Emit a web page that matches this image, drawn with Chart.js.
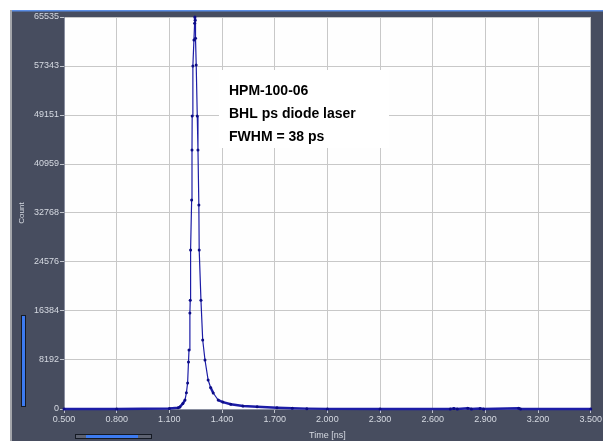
<!DOCTYPE html>
<html>
<head>
<meta charset="utf-8">
<title>HPM-100-06 pulse response</title>
<script src="https://cdn.jsdelivr.net/npm/chart.js@4/dist/chart.umd.min.js"></script>
<style>
  html, body { margin: 0; padding: 0; background: #ffffff; }
  #wrap { width: 603px; height: 441px; }
</style>
</head>
<body>
<div id="wrap"><canvas id="pulse" width="603" height="441"></canvas></div>
<script>
/* ---------- data ---------- */
const timeNs = [
  0.500, 0.800, 1.100, 1.150, 1.160, 1.177, 1.189, 1.197, 1.204, 1.209,
  1.212, 1.217, 1.219, 1.221, 1.227, 1.229, 1.230, 1.234, 1.240, 1.244,
  1.2455, 1.247, 1.249, 1.253, 1.259, 1.263, 1.268, 1.270, 1.280, 1.290,
  1.303, 1.321, 1.335, 1.350, 1.378, 1.405, 1.450, 1.519, 1.600, 1.713,
  1.800, 1.883, 2.000, 2.300, 2.700, 2.720, 2.740, 2.800, 2.820, 2.870,
  2.890, 3.090, 3.100, 3.500
];
const counts = [
  0, 0, 80, 200, 350, 900, 1500, 2700, 4350, 7860,
  9860, 16050, 18200, 26600, 34950, 43300, 49000, 57350, 61700, 64500,
  65535, 65000, 62000, 57500, 49000, 43300, 34100, 26600, 18200, 11540,
  8190, 4850, 3600, 2680, 1500, 1150, 800, 500, 380, 220,
  130, 60, 20, 0, 0, 90, 0, 120, 0, 90,
  0, 130, 0, 0
];

const xTicks = [0.5, 0.8, 1.1, 1.4, 1.7, 2.0, 2.3, 2.6, 2.9, 3.2, 3.5];
const xTickLabels = ['0.500', '0.800', '1.100', '1.400', '1.700', '2.000',
                     '2.300', '2.600', '2.900', '3.200', '3.500'];
const yTicks = [0, 8192, 16384, 24576, 32768, 40959, 49151, 57343, 65535];
const yTickLabels = ['0', '8192', '16384', '24576', '32768', '40959',
                     '49151', '57343', '65535'];
const infoLines = ['HPM-100-06', 'BHL ps diode laser', 'FWHM = 38 ps'];

/* ---------- look ---------- */
const PANEL = '#474d5f';
const LABEL = '#d6dae2';
const GRID = '#c8c8c8';
const TRACE = '#1c1ca6';

// window chrome: dark panel, top accent, left rule, the two scroll widgets
const panelPlugin = {
  id: 'panel',
  beforeDraw(chart) {
    const { ctx, chartArea: a } = chart;
    ctx.save();
    ctx.fillStyle = '#ffffff';
    ctx.fillRect(0, 0, chart.width, chart.height);
    ctx.fillStyle = PANEL;
    ctx.fillRect(12, 10, chart.width - 12, chart.height - 10);
    ctx.fillStyle = '#5b8ee6';
    ctx.fillRect(12, 10, chart.width - 12, 1.5);
    ctx.fillStyle = '#a4a6ab';
    ctx.fillRect(10, 10, 2, chart.height - 10);
    ctx.fillStyle = '#fefefe';
    ctx.fillRect(a.left, a.top, a.right - a.left, a.bottom - a.top);

    // vertical zoom slider
    ctx.fillStyle = '#3d7bf0';
    ctx.strokeStyle = '#151a24';
    ctx.lineWidth = 1;
    ctx.fillRect(21.5, 315.5, 4, 91);
    ctx.strokeRect(21.5, 315.5, 4, 91);

    // horizontal scroll bar
    ctx.fillStyle = '#5d6271';
    ctx.fillRect(75.5, 434.5, 76, 4);
    ctx.strokeRect(75.5, 434.5, 76, 4);
    ctx.fillStyle = '#3d7bf0';
    ctx.fillRect(86, 435, 52, 3);
    ctx.restore();
  },
  beforeDatasetsDraw(chart) {
    const { ctx } = chart;
    ctx.save();
    ctx.fillStyle = '#ffffff';
    ctx.fillRect(219, 70, 170, 78);
    ctx.fillStyle = '#000000';
    ctx.font = 'bold 14px "Liberation Sans", Arial, sans-serif';
    ctx.textBaseline = 'middle';
    infoLines.forEach((t, i) => ctx.fillText(t, 229, 91 + i * 23));
    ctx.restore();
  }
};

new Chart(document.getElementById('pulse'), {
  type: 'line',
  data: {
    datasets: [{
      data: timeNs.map((t, i) => ({ x: t, y: counts[i] })),
      borderColor: TRACE,
      borderWidth: 1.4,
      pointRadius: 1.5,
      pointBorderWidth: 0,
      pointBackgroundColor: '#0c0c86',
      tension: 0,
      clip: 4,
      // flat stretches read as a heavier trace in the original (dense channels)
      segment: {
        borderWidth: c => Math.abs(c.p1.y - c.p0.y) < 6 ? 2.4 : 1.2
      }
    }]
  },
  options: {
    responsive: false,
    animation: false,
    devicePixelRatio: 1,
    layout: { padding: { left: 0, top: 17, right: 12, bottom: 0 } },
    plugins: { legend: { display: false }, tooltip: { enabled: false } },
    scales: {
      x: {
        type: 'linear',
        min: 0.5,
        max: 3.5,
        afterBuildTicks: s => { s.ticks = xTicks.map(v => ({ value: v })); },
        afterFit: s => { s.height = 32; },
        ticks: {
          color: LABEL,
          font: { family: '"Liberation Sans", Arial, sans-serif', size: 9 },
          padding: 1,
          maxRotation: 0,
          autoSkip: false,
          callback: (v, i) => xTickLabels[i]
        },
        grid: { color: GRID, tickLength: 4, tickColor: '#c0c4cc' },
        border: { color: '#8a8fa0' },
        title: {
          display: true,
          text: 'Time [ns]',
          color: LABEL,
          font: { family: '"Liberation Sans", Arial, sans-serif', size: 9 },
          padding: { top: 0, bottom: 0 }
        }
      },
      y: {
        min: 0,
        max: 65535,
        afterBuildTicks: s => { s.ticks = yTicks.map(v => ({ value: v })); },
        afterFit: s => { s.width = 64; },
        ticks: {
          color: LABEL,
          font: { family: '"Liberation Sans", Arial, sans-serif', size: 9 },
          padding: 1,
          autoSkip: false,
          callback: (v, i) => yTickLabels[i]
        },
        grid: { color: GRID, tickLength: 4, tickColor: '#c0c4cc' },
        border: { color: '#8a8fa0' },
        title: {
          display: true,
          text: 'Count',
          color: LABEL,
          font: { family: '"Liberation Sans", Arial, sans-serif', size: 8 },
          padding: { top: 17, bottom: 0 }
        }
      }
    }
  },
  plugins: [panelPlugin]
});
</script>
</body>
</html>
